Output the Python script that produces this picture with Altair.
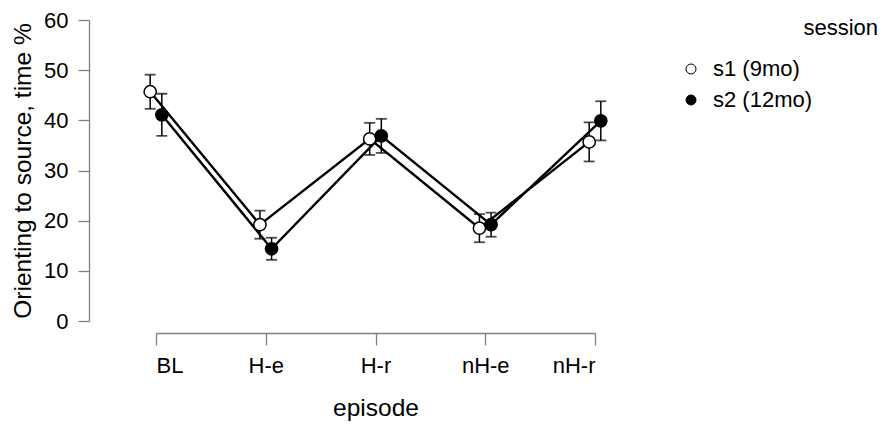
import json
import altair as alt
import pandas as pd

# ---- data ----
episodes = ["BL", "H-e", "H-r", "nH-e", "nH-r"]
sessions = ["s1 (9mo)", "s2 (12mo)"]
s1_mean = [45.7, 19.2, 36.3, 18.5, 35.7]
s1_err = [3.4, 2.8, 3.2, 2.8, 3.9]
s2_mean = [41.1, 14.4, 36.9, 19.2, 39.9]
s2_err = [4.2, 2.2, 3.4, 2.4, 3.9]
y_ticks = [0, 10, 20, 30, 40, 50, 60]

rows = []
for s, means, errs in zip(sessions, [s1_mean, s2_mean], [s1_err, s2_err]):
    for i, (ep, m, e) in enumerate(zip(episodes, means, errs)):
        rows.append({"episode": ep, "idx": i, "session": s, "mean": m, "err": e})
df = pd.DataFrame(rows)

FONT = "Liberation Sans"
AXIS_GRAY = "#808080"
DODGE = 0.053

label_expr = json.dumps(episodes) + "[datum.value]"

x_axis = alt.Axis(
    values=list(range(len(episodes))), labelExpr=label_expr, title="episode",
    offset=12, tickSize=12, labelPadding=10, labelFontSize=22, labelFont=FONT,
    labelColor="black", titleFont=FONT, titleFontSize=24.5, titleFontWeight="normal",
    titleColor="black", titlePadding=20, domainColor=AXIS_GRAY, tickColor=AXIS_GRAY,
    domainWidth=1.3, tickWidth=1.3, grid=False,
)
y_axis = alt.Axis(
    values=y_ticks, title="Orienting to source, time %",
    offset=67, tickSize=11, labelPadding=10, labelFontSize=22, labelFont=FONT,
    labelColor="black", titleFont=FONT, titleFontSize=24.5, titleFontWeight="normal",
    titleColor="black", titlePadding=8, domainColor=AXIS_GRAY, tickColor=AXIS_GRAY,
    domainWidth=1.3, tickWidth=1.3, grid=False,
)
x_scale = alt.Scale(domain=[0, len(episodes) - 1], nice=False, zero=False)
y_scale = alt.Scale(domain=[0, 60], nice=False)

base = alt.Chart(df).transform_calculate(
    xpos=f"datum.idx + (datum.session == '{sessions[0]}' ? {-DODGE} : {DODGE})",
    lo="datum.mean - datum.err",
    hi="datum.mean + datum.err",
)

X = alt.X("xpos:Q", scale=x_scale, axis=x_axis)

lines = base.mark_line(color="black", strokeWidth=2.4).encode(
    x=X,
    y=alt.Y("mean:Q", scale=y_scale, axis=y_axis),
    detail="session:N",
    order="xpos:Q",
)
bars = base.mark_rule(color="black", strokeWidth=1.5).encode(
    x=X, y=alt.Y("lo:Q", scale=y_scale, axis=y_axis), y2="hi:Q"
)
cap_lo = base.mark_tick(orient="horizontal", size=11, thickness=1.8, color="black").encode(
    x=X, y=alt.Y("lo:Q", scale=y_scale, axis=y_axis)
)
cap_hi = base.mark_tick(orient="horizontal", size=11, thickness=1.8, color="black").encode(
    x=X, y=alt.Y("hi:Q", scale=y_scale, axis=y_axis)
)
points = base.mark_point(
    shape="circle", size=150, filled=True, stroke="black", strokeWidth=1.5, opacity=1
).encode(
    x=X,
    y=alt.Y("mean:Q", scale=y_scale, axis=y_axis),
    fill=alt.Fill(
        "session:N",
        scale=alt.Scale(domain=sessions, range=["white", "black"]),
        legend=alt.Legend(
            title=None, orient="none", legendX=524, legendY=38,
            symbolType="circle", symbolSize=100, symbolStrokeColor="black",
            symbolStrokeWidth=1, symbolOpacity=1, labelFont=FONT, labelFontSize=22,
            labelColor="black", labelOffset=11, rowPadding=9,
        ),
    ),
)

chart = alt.layer(lines, bars, cap_lo, cap_hi, points).properties(
    width=439,
    height=301,
    title=alt.TitleParams(
        text="session", anchor="end", frame="group", orient="top",
        font=FONT, fontSize=22, fontWeight="normal", color="black",
        dx=283, dy=35,
    ),
    autosize=alt.AutoSizeParams(type="none"),
    padding={"left": 156, "top": 20, "right": 286, "bottom": 104},
).configure(background="white", view=alt.ViewConfig(stroke="transparent", strokeWidth=0))

chart.save("out.html", embed_options={"renderer": "svg", "actions": False})
